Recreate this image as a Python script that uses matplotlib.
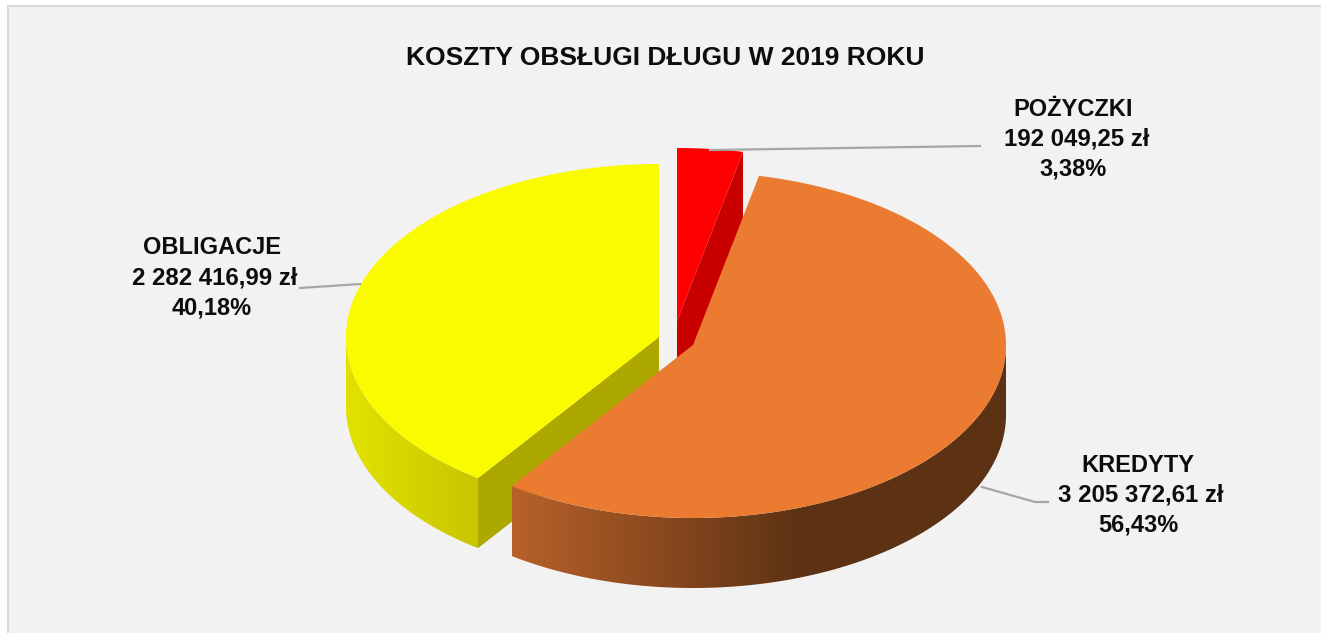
import numpy as np
from matplotlib import pyplot as plt
from matplotlib.patches import Polygon, Rectangle

plt.rcParams['font.family'] = ['Liberation Sans', 'DejaVu Sans']

# DATA
names = ['POŻYCZKI', 'KREDYTY', 'OBLIGACJE']
amounts = [192049.25, 3205372.61, 2282416.99]
amount_labels = ['192 049,25 zł', '3 205 372,61 zł', '2 282 416,99 zł']
percent_labels = ['3,38%', '56,43%', '40,18%']
title = 'KOSZTY OBSŁUGI DŁUGU W 2019 ROKU'

# pie geometry in pixels
rx = 313
ry = 173
depth = 70
centers = [(677, 321), (693, 345), (659, 337)]  # every slice is pulled out on its own
top_colors = ['#ff0000', '#ea7b30', '#fbfb00']
inner_colors = ['#c80000', '#000000', '#aca800']
label_pos = [(1073.5, 139), (1138, 495), (212, 278)]
leaders = [([710, 980], [150, 146]),
           ([982, 1035, 1048], [487, 502, 502]),
           ([300, 360], [288, 284])]

# wall gradients, x position -> colour
wall_x = {1: [513, 800], 2: [345, 477]}
wall_rgb = {1: [(184, 97, 42), (93, 50, 20)], 2: [(226, 226, 0), (200, 198, 0)]}


def edge_point(center, t):
    return center[0] + rx*np.sin(t), center[1] - ry*np.cos(t)


def gradient_strip(i, x0, x1):
    xs = np.arange(x0, x1 + 1)
    rgb = [np.interp(xs, wall_x[i], [c[k] for c in wall_rgb[i]]) for k in range(3)]
    return np.dstack(rgb)/255


fig = plt.figure(figsize=(13.21, 6.33), dpi=100)
ax = fig.add_axes([0, 0, 1, 1])
ax.axis('off')

ax.add_patch(Rectangle((8, 6), 1320, 640, facecolor='#f2f2f2', edgecolor='#d9d9d9', linewidth=1.5))

# slice angles, clockwise from 12 o'clock
total = sum(amounts)
cuts = np.radians(np.cumsum([0] + amounts)/total*360)

for xs, ys in leaders:
    ax.plot(xs, ys, color='#a6a6a6', linewidth=1.6, zorder=6)

# back to front: red, yellow, orange
for layer, i in enumerate([0, 2, 1]):
    center = centers[i]
    t0, t1 = cuts[i], cuts[i+1]

    # flat wall from the rim to the centre
    if i != 1:
        xe, ye = edge_point(center, t1 if i == 0 else t0)
        ax.fill([xe, center[0], center[0], xe],
                [ye, center[1], center[1]+depth, ye+depth],
                color=inner_colors[i], linewidth=0, zorder=3+layer)

    # outer wall, only the part facing the viewer
    low = max(t0, np.pi/2)
    high = min(t1, 3*np.pi/2)
    if high > low:
        steps = np.linspace(low, high, 300)
        wx, wy = edge_point(center, steps)
        outline = np.c_[np.r_[wx, wx[::-1]], np.r_[wy, wy[::-1] + depth]]
        wall = Polygon(outline, closed=True, transform=ax.transData, facecolor='none', linewidth=0)
        ax.add_patch(wall)
        x0, x1 = int(wx.min()), int(wx.max()) + 1
        y0, y1 = outline[:, 1].min(), outline[:, 1].max()
        im = ax.imshow(gradient_strip(i, x0, x1), extent=(x0, x1, y1, y0), aspect='auto', zorder=3+layer)
        im.set_clip_path(wall)

    # top of the slice
    t = np.linspace(t0, t1, 300)
    px, py = edge_point(center, t)
    ax.fill(np.r_[center[0], px], np.r_[center[1], py], color=top_colors[i], linewidth=0, zorder=3+layer)

ax.set_xlim(0, 1321)
ax.set_ylim(633, 0)

ax.text(665, 58, title, ha='center', va='center', fontsize=19, fontweight='bold', color='#0d0d0d')

for i in range(len(names)):
    x, y = label_pos[i]
    ax.text(x, y-30, names[i], ha='center', va='center', fontsize=17, fontweight='bold', color='#0d0d0d', zorder=7)
    ax.text(x+3, y, amount_labels[i], ha='center', va='center', fontsize=17.3, fontweight='bold', color='#0d0d0d', zorder=7)
    ax.text(x, y+30, percent_labels[i], ha='center', va='center', fontsize=17, fontweight='bold', color='#0d0d0d', zorder=7)

fig.savefig('out.png', dpi=100, facecolor='white')
